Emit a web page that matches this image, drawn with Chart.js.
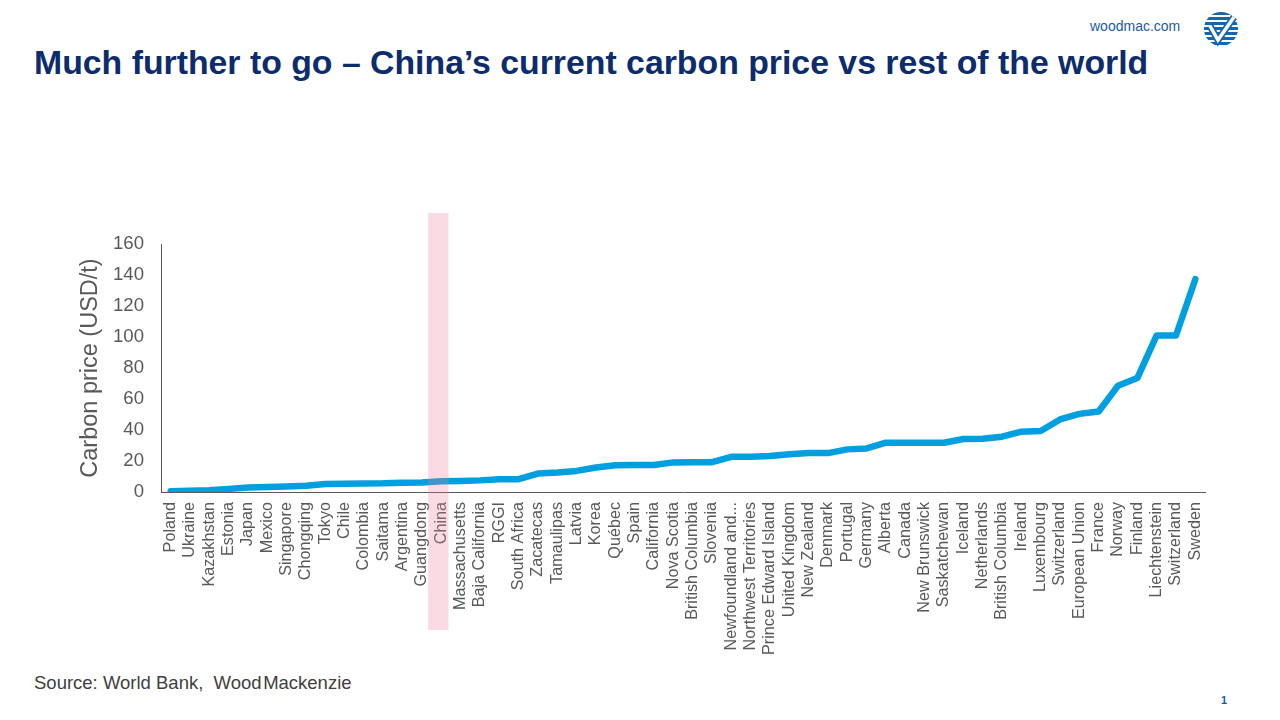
<!DOCTYPE html>
<html>
<head>
<meta charset="utf-8">
<script src="https://cdn.jsdelivr.net/npm/chart.js@4.4.1/dist/chart.umd.min.js"></script>
<style>
  html, body { margin:0; padding:0; background:#fff; }
  body { width:1280px; height:720px; position:relative; overflow:hidden; font-family:"Liberation Sans", Arial, sans-serif; }
  #title { position:absolute; left:34px; top:43px; font-size:33.8px; font-weight:bold; color:#0d2c6c; white-space:nowrap; }
  #site { position:absolute; left:1090px; top:18px; font-size:14px; color:#1e5aa6; }
  #logo { position:absolute; left:1203px; top:11px; width:36px; height:36px; }
  #source { position:absolute; left:34px; top:672px; font-size:18.5px; color:#404040; white-space:nowrap; }
  #page { position:absolute; left:1221px; top:694px; font-size:11px; font-weight:bold; color:#1e5aa6; }
  #wrap { position:absolute; left:0; top:200px; width:1280px; height:470px; }
</style>
</head>
<body>
<div id="site">woodmac.com</div>
<svg id="logo" viewBox="0 0 36 36">
  <defs><clipPath id="c"><circle cx="18" cy="18" r="17"/></clipPath></defs>
  <g clip-path="url(#c)">
    <rect x="0" y="0" width="36" height="36" fill="#fff"/>
    <rect x="0" y="1" width="36" height="3" fill="#1565b0"/>
    <rect x="0" y="6" width="36" height="3" fill="#1565b0"/>
    <rect x="0" y="11" width="36" height="3" fill="#1565b0"/>
    <rect x="0" y="16" width="36" height="3" fill="#1565b0"/>
    <rect x="0" y="21" width="36" height="3" fill="#1565b0"/>
    <rect x="0" y="26" width="36" height="3" fill="#1565b0"/>
    <rect x="0" y="31" width="36" height="3" fill="#1565b0"/>
  </g>
  <polyline points="7,15 15,29 31,6" fill="none" stroke="#1565b0" stroke-width="7" stroke-linejoin="miter"/>
  <polyline points="7,15 15,29 31,6" fill="none" stroke="#fff" stroke-width="3.5" stroke-linejoin="miter"/>
</svg>
<div id="title">Much further to go – China’s current carbon price vs rest of the world</div>
<div id="wrap"><canvas id="chart"></canvas></div>
<div id="source">Source: World Bank,&nbsp; Wood&#8202;Mackenzie</div>
<div id="page">1</div>
<script>
const categories = ["Poland","Ukraine","Kazakhstan","Estonia","Japan","Mexico","Singapore","Chongqing","Tokyo","Chile","Colombia","Saitama","Argentina","Guangdong","China","Massachusetts","Baja California","RGGI","South Africa","Zacatecas","Tamaulipas","Latvia","Korea","Québec","Spain","California","Nova Scotia","British Columbia","Slovenia","Newfoundland and...","Northwest Territories","Prince Edward Island","United Kingdom","New Zealand","Denmark","Portugal","Germany","Alberta","Canada","New Brunswick","Saskatchewan","Iceland","Netherlands","British Columbia","Ireland","Luxembourg","Switzerland","European Union","France","Norway","Finland","Liechtenstein","Switzerland","Sweden"];
const prices = [0.5,0.8,1.1,2,2.9,3.2,3.6,4,5.2,5.4,5.5,5.6,6,6.2,6.9,7.1,7.5,8.2,8.3,11.9,12.6,13.6,15.8,17.3,17.4,17.4,19.1,19.2,19.2,22.7,22.8,23.2,24.4,25.2,25.1,27.5,28.1,31.8,31.8,31.8,31.8,34.2,34.3,35.7,38.9,39.4,46.8,50.4,51.9,68.5,73.5,101,101,137.3];
const yTicks = [0,20,40,60,80,100,120,140,160];
const highlightCategory = "China";
const yAxisTitle = "Carbon price (USD/t)";

const highlightPlugin = {
  id: 'highlight',
  afterDatasetsDraw(chart) {
    const xs = chart.scales.x;
    const idx = categories.indexOf(highlightCategory);
    const cx = xs.getPixelForValue(idx);
    const w = (xs.getPixelForValue(1) - xs.getPixelForValue(0));
    const ctx = chart.ctx;
    ctx.save();
    ctx.fillStyle = 'rgba(238,125,155,0.28)';
    const top = chart.chartArea.top - 31;
    const bottom = chart.chartArea.bottom + 138;
    ctx.fillRect(cx - w/2 - 3.5, top, w + 1, bottom - top);
    ctx.restore();
  }
};

new Chart(document.getElementById('chart'), {
  type: 'line',
  data: {
    labels: categories,
    datasets: [{
      data: prices,
      borderColor: '#009fdf',
      borderWidth: 6.5,
      borderCapStyle: 'round',
      borderJoinStyle: 'round',
      pointRadius: 0,
      tension: 0,
      fill: false
    }]
  },
  options: {
    responsive: true,
    maintainAspectRatio: false,
    animation: false,
    layout: { padding: { top: 44, left: 72, right: 75, bottom: 0 } },
    plugins: { legend: { display: false }, tooltip: { enabled: false } },
    scales: {
      x: {
        type: 'category',
        offset: true,
        grid: { display: false, drawTicks: false },
        border: { display: true, color: '#595959', width: 1 },
        ticks: {
          autoSkip: false, maxRotation: 90, minRotation: 90, padding: 10,
          color: '#595959', font: { family: 'Liberation Sans', size: 16.2 }
        },
        afterFit(scale) { scale.height = 178; }
      },
      y: {
        min: 0, max: 160,
        afterBuildTicks(scale) { scale.ticks = yTicks.map(v => ({ value: v })); },
        grid: { display: false, drawTicks: false },
        border: { display: true, color: '#595959', width: 1 },
        ticks: { padding: 17, color: '#595959', font: { family: 'Liberation Sans', size: 18.6 } },
        title: { display: true, text: yAxisTitle, color: '#595959', padding: { top: 4, bottom: 0 },
                 font: { family: 'Liberation Sans', size: 23.5 } },
        afterFit(scale) { scale.width = 89; }
      }
    }
  },
  plugins: [highlightPlugin]
});
</script>
</body>
</html>
